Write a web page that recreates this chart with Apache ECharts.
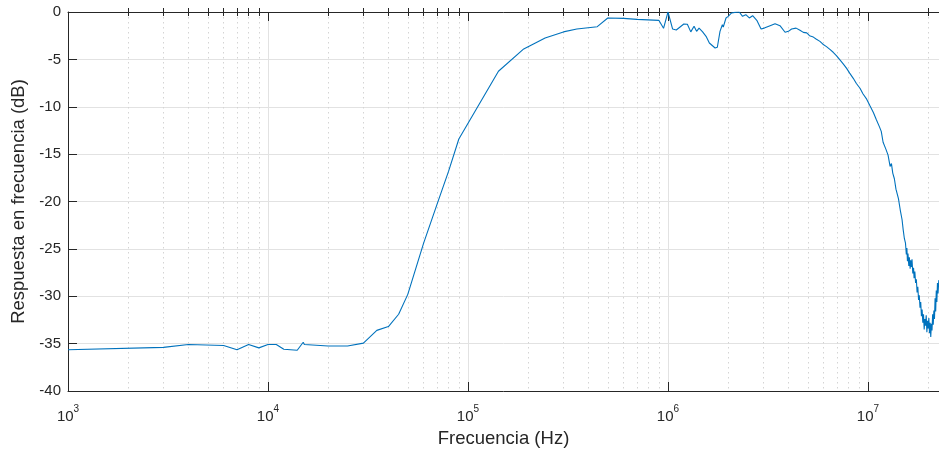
<!DOCTYPE html>
<html>
<head>
<meta charset="utf-8">
<script src="https://cdn.jsdelivr.net/npm/echarts@6/dist/echarts.min.js"></script>
<style>
html,body{margin:0;padding:0;background:#fff;}
#chart{width:939px;height:453px;}
</style>
</head>
<body>
<div id="chart"></div>
<script>
// Frequency (Hz)
const freqHz = [
  1000, 3000, 4000, 6000, 7000, 8000, 9000, 10000, 11000, 12000, 14000, 15000, 15200,
  20000, 25000, 30000, 35000, 40000, 45000, 50000, 60000, 70000, 80000, 90000,
  142000, 190000, 243000, 300000, 350000, 443000, 500000, 600000, 700000, 900000, 950000,
  1000000, 1055000, 1100000, 1200000, 1250000, 1300000, 1350000, 1390000, 1430000, 1490000,
  1550000, 1610000, 1720000, 1765000, 1820000, 1870000, 1890000, 1950000, 2000000, 2080000,
  2160000, 2270000, 2360000, 2450000, 2550000, 2650000, 2780000, 2920000, 3030000, 3240000,
  3430000, 3630000, 3850000, 4000000, 4150000, 4370000, 4570000, 4750000, 4940000, 5100000,
  5200000, 5330000, 5500000, 5600000, 5750000, 5950000, 6050000, 6200000, 6450000, 6550000,
  6700000, 6950000, 7050000, 7240000, 7500000, 7600000, 7820000, 8100000, 8200000, 8440000,
  8750000, 8850000, 9120000, 9450000, 9550000, 9850000, 1.02e7, 1.035e7, 1.064e7, 1.1e7,
  1.115e7, 1.14e7, 1.165e7, 1.19e7, 1.21e7, 1.23e7, 1.26e7, 1.29e7, 1.31e7, 1.33e7,
  1.355e7, 1.38e7, 1.40e7, 1.42e7, 1.45e7, 1.465e7, 1.48e7,
  1.50e7, 1.52e7, 1.54e7, 1.555e7, 1.565e7, 1.575e7, 1.585e7, 1.60e7, 1.61e7, 1.625e7,
  1.635e7, 1.65e7, 1.66e7, 1.675e7, 1.69e7, 1.70e7, 1.715e7, 1.73e7, 1.745e7, 1.76e7,
  1.775e7, 1.79e7, 1.805e7, 1.82e7, 1.835e7, 1.85e7, 1.865e7, 1.88e7, 1.895e7, 1.91e7,
  1.925e7, 1.94e7, 1.955e7, 1.97e7, 1.985e7, 2.00e7, 2.015e7, 2.03e7, 2.045e7, 2.06e7,
  2.075e7, 2.09e7, 2.105e7, 2.12e7, 2.135e7, 2.15e7, 2.165e7, 2.18e7, 2.195e7, 2.21e7,
  2.225e7, 2.24e7, 2.26e7
];
// Frequency response (dB)
const respDb = [
  -35.65, -35.4, -35.1, -35.2, -35.65, -35.1, -35.45, -35.1, -35.1, -35.6, -35.7, -34.85, -35.1,
  -35.25, -35.25, -34.95, -33.6, -33.2, -31.9, -29.8, -24.4, -20.3, -16.8, -13.4,
  -6.25, -3.9, -2.74, -2.1, -1.8, -1.55, -0.63, -0.67, -0.78, -0.88, -1.72,
  0, -1.8, -1.9, -1.27, -1.3, -2.1, -1.5, -2.04, -1.7, -2.1,
  -2.57, -3.27, -3.8, -3.72, -2.04, -1.34, -1.58, -0.63, -0.46, -0.1,
  -0.04, 0, -0.46, -0.28, -0.63, -0.39, -0.88, -1.8, -1.7, -1.44,
  -1.23, -1.44, -2.14, -2.04, -1.8, -1.7, -1.93, -2.15, -2.2, -2.5,
  -2.35, -2.65, -2.85, -2.75, -3.1, -3.4, -3.3, -3.65, -3.95, -3.85,
  -4.25, -4.6, -4.45, -5.05, -5.45, -5.3, -5.95, -6.45, -6.3, -7.0,
  -7.55, -7.4, -8.05, -8.65, -8.5, -9.2, -9.85, -9.7, -10.6, -11.35,
  -11.2, -12.1, -12.6, -13.75, -13.6, -14.5, -15.1, -16.3, -16.0, -17.0,
  -17.6, -18.7, -18.5, -19.7, -20.9, -20.7, -21.9,
  -23.0, -23.9, -24.4, -25.6, -24.9, -26.3, -25.5, -26.8, -25.9, -27.1,
  -26.2, -26.9, -26.1, -27.6, -27.0, -28.1, -27.4, -28.6, -28.2, -29.6,
  -29.0, -30.4, -29.9, -31.2, -30.6, -32.1, -31.4, -32.8, -31.9, -33.5,
  -32.4, -33.1, -32.0, -33.8, -32.6, -33.4, -32.3, -33.9, -32.8, -34.3,
  -32.9, -33.6, -31.9, -33.0, -31.5, -32.4, -30.2, -31.6, -29.4, -30.6,
  -28.6, -29.7, -28.3
];
// Tick values
const xMajorTicks = [1e3, 1e4, 1e5, 1e6, 1e7];
const xMinorTicks = [
  2e3, 3e3, 4e3, 5e3, 6e3, 7e3, 8e3, 9e3,
  2e4, 3e4, 4e4, 5e4, 6e4, 7e4, 8e4, 9e4,
  2e5, 3e5, 4e5, 5e5, 6e5, 7e5, 8e5, 9e5,
  2e6, 3e6, 4e6, 5e6, 6e6, 7e6, 8e6, 9e6,
  2e7
];
const yTicks = [-40, -35, -30, -25, -20, -15, -10, -5, 0];

const xMin = 1e3, xMax = 2.265e7;
const FONT = '"Liberation Sans", Arial, Helvetica, sans-serif';
const AX = '#262626';

const chart = echarts.init(document.getElementById('chart'), null, {renderer: 'canvas'});
const base = {type: 'log', logBase: 10, min: xMin, max: xMax, gridIndex: 0};
const seriesData = freqHz.map((f, i) => [f, respDb[i]]);

chart.setOption({
  animation: false,
  backgroundColor: '#ffffff',
  grid: {left: 68, top: 12, right: 0, bottom: 61, containLabel: false},
  xAxis: [
    Object.assign({}, base, {
      position: 'bottom',
      name: 'Frecuencia (Hz)', nameLocation: 'middle', nameGap: 38,
      nameTextStyle: {fontFamily: FONT, fontSize: 18.5, color: AX},
      axisLine: {show: true, onZero: false, lineStyle: {color: AX, width: 1}},
      axisTick: {show: true, inside: true, length: 9, customValues: xMajorTicks, lineStyle: {color: AX, width: 1}},
      axisLabel: {
        show: true, customValues: xMajorTicks, margin: 13,
        formatter: function (v) { return '{b|10}{s|' + Math.round(Math.log10(v)) + '}'; },
        rich: {
          b: {fontFamily: FONT, fontSize: 15, color: AX, lineHeight: 20, verticalAlign: 'bottom'},
          s: {fontFamily: FONT, fontSize: 10, color: AX, lineHeight: 20, verticalAlign: 'top'}
        }
      },
      splitLine: {show: true, lineStyle: {color: '#e2e2e2', width: 1}}
    }),
    Object.assign({}, base, {
      position: 'bottom',
      axisLine: {show: false},
      axisTick: {show: true, inside: true, length: 4, customValues: xMinorTicks, lineStyle: {color: AX, width: 1}},
      axisLabel: {show: false},
      splitLine: {show: true, lineStyle: {color: '#d4d4d4', width: 1, type: [1.5, 3.5]}}
    }),
    Object.assign({}, base, {
      position: 'top',
      axisLine: {show: true, onZero: false, lineStyle: {color: AX, width: 1}},
      axisTick: {show: true, inside: true, length: 9, customValues: xMajorTicks, lineStyle: {color: AX, width: 1}},
      axisLabel: {show: false},
      splitLine: {show: false}
    }),
    Object.assign({}, base, {
      position: 'top',
      axisLine: {show: false},
      axisTick: {show: true, inside: true, length: 4, customValues: xMinorTicks, lineStyle: {color: AX, width: 1}},
      axisLabel: {show: false},
      splitLine: {show: false}
    })
  ],
  yAxis: [{
    type: 'value', min: -40, max: 0, interval: 5, position: 'left',
    name: 'Respuesta en frecuencia (dB)', nameLocation: 'middle', nameGap: 38,
    nameTextStyle: {fontFamily: FONT, fontSize: 18.5, color: AX},
    axisLine: {show: true, onZero: false, lineStyle: {color: AX, width: 1}},
    axisTick: {show: true, inside: true, length: 9, customValues: yTicks, lineStyle: {color: AX, width: 1}},
    axisLabel: {show: true, customValues: yTicks, margin: 7, fontFamily: FONT, fontSize: 15, color: AX},
    splitLine: {show: true, lineStyle: {color: '#e2e2e2', width: 1}}
  }],
  series: [{
    type: 'line', xAxisIndex: 0, yAxisIndex: 0,
    data: seriesData,
    showSymbol: false, symbol: 'none',
    lineStyle: {color: '#0072BD', width: 1.1},
    clip: true, silent: true
  }]
});
</script>
</body>
</html>
